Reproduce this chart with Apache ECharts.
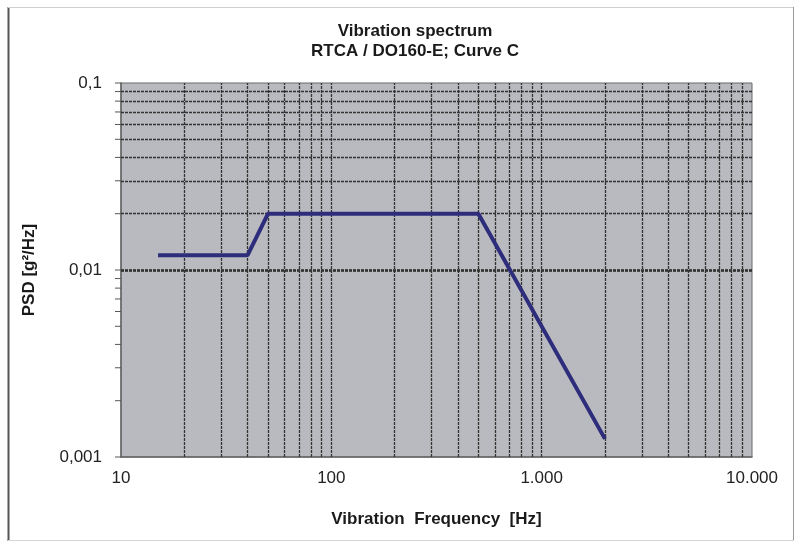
<!DOCTYPE html>
<html>
<head>
<meta charset="utf-8">
<script src="https://cdn.jsdelivr.net/npm/echarts@6/dist/echarts.min.js"></script>
<style>html,body{margin:0;padding:0;background:#fff}#c{width:799px;height:542px}</style>
</head>
<body>
<div id="c"></div>
<script>
// Data
var freqHz = [15, 40, 50, 500, 2000];
var psd = [0.012, 0.012, 0.02, 0.02, 0.00125];
var xTickValues = [10, 100, 1000, 10000];
var xTickLabels = ['10', '100', '1.000', '10.000'];
var yTickValues = [0.001, 0.01, 0.1];
var yTickLabels = ['0,001', '0,01', '0,1'];
var xGrid = [20, 30, 40, 50, 60, 70, 80, 90, 100, 200, 300, 400, 500, 600, 700, 800, 900, 1000, 2000, 3000, 4000, 5000, 6000, 7000, 8000, 9000];
var yGrid = [0.002, 0.003, 0.004, 0.005, 0.006, 0.007, 0.008, 0.009, 0.01, 0.02, 0.03, 0.04, 0.05, 0.06, 0.07, 0.08, 0.09];
var yTicksAll = [0.001].concat(yGrid).concat([0.1]);

function nearestLabel(v, vals, labels) {
  var best = 0, bd = Infinity;
  for (var i = 0; i < vals.length; i++) {
    var d = Math.abs(Math.log10(v) - Math.log10(vals[i]));
    if (d < bd) { bd = d; best = i; }
  }
  return bd < 0.01 ? labels[best] : '';
}

var chart = echarts.init(document.getElementById('c'), null, {renderer: 'canvas'});
var gridStyle = {color: '#333', width: 1.3, type: [3, 1]};
var option = {
  animation: false,
  backgroundColor: '#fff',
  title: {
    text: 'Vibration spectrum\nRTCA / DO160-E; Curve C',
    left: 410, top: 16, textAlign: 'center',
    textStyle: {fontFamily: 'Liberation Sans, Arial', fontWeight: 'bold', fontSize: 17, color: '#1a1a1a', lineHeight: 20}
  },
  grid: {left: 121, top: 83, right: 47, bottom: 85, show: true, backgroundColor: '#b9babf', borderColor: '#6a6a6a', borderWidth: 1},
  xAxis: {
    type: 'log', logBase: 10, min: 10, max: 10000,
    name: 'Vibration  Frequency  [Hz]', nameLocation: 'middle', nameGap: 54,
    nameTextStyle: {fontFamily: 'Liberation Sans, Arial', fontWeight: 'bold', fontSize: 17, color: '#1a1a1a'},
    axisLine: {show: true, lineStyle: {color: '#666', width: 1.5}},
    axisTick: {show: false},
    splitLine: {show: false},
    axisLabel: {
      margin: 13, fontFamily: 'Liberation Sans, Arial', fontSize: 17, color: '#222',
      formatter: function (v) { return nearestLabel(v, xTickValues, xTickLabels); }
    }
  },
  yAxis: {
    type: 'log', logBase: 10, min: 0.001, max: 0.1,
    name: 'PSD [g²/Hz]', nameLocation: 'middle', nameGap: 83, nameRotate: 90,
    nameTextStyle: {fontFamily: 'Liberation Sans, Arial', fontWeight: 'bold', fontSize: 17, color: '#1a1a1a'},
    axisLine: {show: true, lineStyle: {color: '#666', width: 1.5}},
    axisTick: {show: false},
    splitLine: {show: false},
    axisLabel: {
      margin: 19, fontFamily: 'Liberation Sans, Arial', fontSize: 17, color: '#222',
      formatter: function (v) { return nearestLabel(v, yTickValues, yTickLabels); }
    }
  },
  series: [
    {
      type: 'line', data: [], z: 1, silent: true,
      markLine: {
        silent: true, symbol: 'none', label: {show: false}, animation: false,
        lineStyle: gridStyle,
        data: xGrid.map(function (v) { return {xAxis: v}; }).concat(yGrid.map(function (v) { return {yAxis: v}; }))
      }
    },
    {
      type: 'custom', z: 2, silent: true, clip: false,
      data: yTicksAll.map(function (v) { return [10, v]; }),
      encode: {x: 0, y: 1},
      renderItem: function (params, api) {
        var p = api.coord([api.value(0), api.value(1)]);
        return {type: 'line', shape: {x1: p[0] - 6, y1: p[1], x2: p[0], y2: p[1]}, style: {stroke: '#555', lineWidth: 1}};
      }
    },
    {
      type: 'line', z: 5, silent: true,
      data: freqHz.map(function (f, i) { return [f, psd[i]]; }),
      showSymbol: false, symbol: 'none',
      lineStyle: {color: '#2d2d7c', width: 4}
    }
  ],
  graphic: [
    {type: 'line', shape: {x1: 8.5, y1: 7, x2: 8.5, y2: 541}, style: {stroke: '#555', lineWidth: 2}},
    {type: 'line', shape: {x1: 8, y1: 7.5, x2: 794, y2: 7.5}, style: {stroke: '#cfcfcf', lineWidth: 1}},
    {type: 'line', shape: {x1: 793.5, y1: 7, x2: 793.5, y2: 541}, style: {stroke: '#9a9a9a', lineWidth: 1}},
    {type: 'line', shape: {x1: 8, y1: 540.5, x2: 794, y2: 540.5}, style: {stroke: '#d5d5d5', lineWidth: 1}}
  ]
};
chart.setOption(option);
</script>
</body>
</html>
